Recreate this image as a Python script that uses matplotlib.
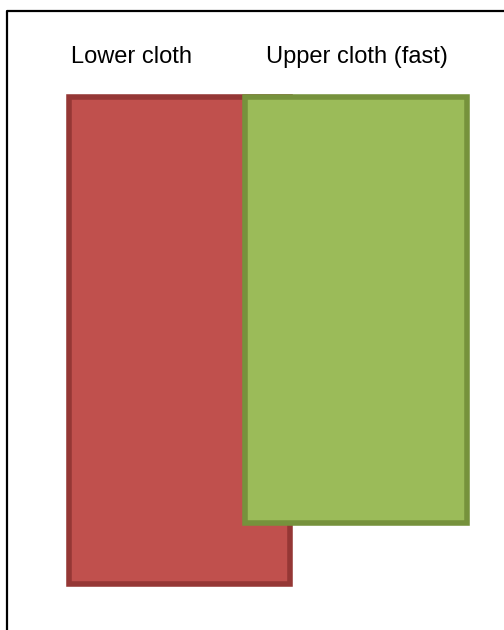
import matplotlib.pyplot as plt

# two cloth blocks, in pixel-like units (y grows downward)
labels = ["Lower cloth", "Upper cloth (fast)"]
lefts = [68.5, 244.5]
rights = [290, 466.5]
tops = [96.5, 96.5]
bottoms = [583.5, 523]
fills = ["#C0504D", "#9BBB59"]
edges = ["#953735", "#76923C"]

fig = plt.figure(figsize=(5.04, 6.3), dpi=100)
ax = fig.add_axes([0, 0, 1, 1])
ax.set_xlim(0, 504)
ax.set_ylim(630, 0)
ax.axis("off")

# frame (only top and left edges visible)
ax.plot([6.5, 6.5, 504], [630, 10.5, 10.5], color="black", lw=1.6, solid_capstyle="projecting")

for i in range(len(labels)):
    w = rights[i] - lefts[i]
    h = bottoms[i] - tops[i]
    ax.bar(lefts[i], h, width=w, bottom=tops[i], align="edge",
           color=fills[i], edgecolor=edges[i], linewidth=4.0, zorder=2 + i)

label_x = [131.5, 356.5]
for i in range(len(labels)):
    ax.text(label_x[i], 63, labels[i], ha="center", va="baseline",
            fontsize=17, family="Liberation Sans", color="black")

fig.savefig("out.png", dpi=100)
